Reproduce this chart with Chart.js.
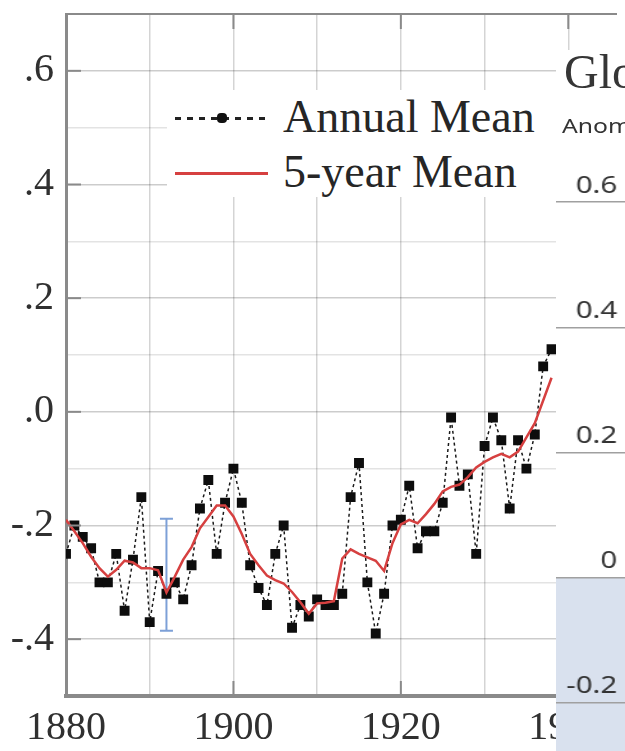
<!DOCTYPE html>
<html>
<head>
<meta charset="utf-8">
<script src="https://cdn.jsdelivr.net/npm/chart.js@4.4.1/dist/chart.umd.min.js"></script>
<style>
  html, body { margin: 0; padding: 0; width: 625px; height: 751px; overflow: hidden; background: #fff; }
  #main { position: absolute; left: 0; top: 0; }
  #legend { position: absolute; left: 167px; top: 90px; width: 389px; height: 107px; background: #fff; }
  .lg-text { position: absolute; left: 116px; font: 46px/46px "Liberation Serif", serif; color: #262626; white-space: nowrap; }
  .lg-dash { position: absolute; left: 8px; width: 93px; height: 3px;
             background: repeating-linear-gradient(to right, #222 0 6px, transparent 6px 12px); }
  .lg-dot { position: absolute; width: 10px; height: 10px; border-radius: 40%; background: #111; }
  .lg-red { position: absolute; left: 8px; width: 93px; height: 3px; background: rgb(214,64,64); }
  #panel { position: absolute; left: 556px; top: 50px; width: 69px; height: 701px; overflow: hidden; background: #fff; }
  /* the side panel is drawn narrow and widened to its slot */
  #side { position: absolute; left: 0; top: 0; transform: scaleX(1.2778); transform-origin: 0 0; }
  .p-title { position: absolute; left: 8px; top: -2px; font: 48px/48px "Liberation Serif", serif; color: #363636; white-space: nowrap; z-index: 2; }
  .p-sub { position: absolute; left: 6px; top: 66px; font: 19px/20px "Noto Sans", sans-serif; color: #333; white-space: nowrap; z-index: 2;
           transform: scaleX(1.3); transform-origin: 0 0; }
</style>
</head>
<body>
<canvas id="main" width="625" height="751"></canvas>

<div id="legend">
  <div class="lg-dash" style="top:27px"></div>
  <div class="lg-dot" style="left:50px; top:23px"></div>
  <div class="lg-text" style="top:4px">Annual Mean</div>
  <div class="lg-red" style="top:82px"></div>
  <div class="lg-text" style="top:59px">5-year Mean</div>
</div>

<div id="panel">
  <canvas id="side" width="54" height="701"></canvas>
  <div class="p-title">Global</div>
  <div class="p-sub">Anomaly</div>
</div>

<script>
// Global temperature anomaly (°C), 1880-1938
const years = [1880,1881,1882,1883,1884,1885,1886,1887,1888,1889,
               1890,1891,1892,1893,1894,1895,1896,1897,1898,1899,
               1900,1901,1902,1903,1904,1905,1906,1907,1908,1909,
               1910,1911,1912,1913,1914,1915,1916,1917,1918,1919,
               1920,1921,1922,1923,1924,1925,1926,1927,1928,1929,
               1930,1931,1932,1933,1934,1935,1936,1937,1938];

const annualMean = [-0.25,-0.20,-0.22,-0.24,-0.30,-0.30,-0.25,-0.35,-0.26,-0.15,
                    -0.37,-0.28,-0.32,-0.30,-0.33,-0.27,-0.17,-0.12,-0.25,-0.16,
                    -0.10,-0.16,-0.27,-0.31,-0.34,-0.25,-0.20,-0.38,-0.34,-0.36,
                    -0.33,-0.34,-0.34,-0.32,-0.15,-0.09,-0.30,-0.39,-0.32,-0.20,
                    -0.19,-0.13,-0.24,-0.21,-0.21,-0.16,-0.01,-0.13,-0.11,-0.25,
                    -0.06,-0.01,-0.05,-0.17,-0.05,-0.10,-0.04,0.08,0.11];

const fiveYearMean = [-0.190,-0.210,-0.231,-0.255,-0.275,-0.290,-0.278,-0.262,-0.265,-0.275,
                      -0.275,-0.279,-0.318,-0.290,-0.260,-0.238,-0.205,-0.185,-0.165,-0.165,
                      -0.184,-0.215,-0.250,-0.270,-0.288,-0.296,-0.302,-0.317,-0.335,-0.355,
                      -0.337,-0.336,-0.333,-0.258,-0.242,-0.250,-0.256,-0.262,-0.280,-0.231,
                      -0.198,-0.190,-0.196,-0.180,-0.162,-0.140,-0.132,-0.128,-0.115,-0.098,
                      -0.088,-0.080,-0.074,-0.080,-0.070,-0.045,-0.020,0.020,0.060];

// uncertainty bar
const errorBarYear = 1892;
const errorBarRange = [-0.385, -0.188];

// axes
const yGridValues = [-0.5,-0.4,-0.3,-0.2,-0.1,0.0,0.1,0.2,0.3,0.4,0.5,0.6,0.7];
const yLabelValues = [-0.4,-0.2,0.0,0.2,0.4,0.6];
const yLabels = ['-.4','-.2','.0','.2','.4','.6'];
const xGridYears = [1880,1890,1900,1910,1920,1930,1940];
const xLabelYears = [1880,1900,1920,1940];
const xLabels = ['1880','1900','1920','1940'];

// right-hand panel axis; values below zero are shaded
const sideTickValues = [-0.2,0,0.2,0.4,0.6];
const sideTickLabels = ['-0.2','0','0.2','0.4','0.6'];
const sideShadeBelow = 0;

const AXIS_GRAY = '#8a8a8a';
const near = (a, b) => Math.abs(a - b) < 1e-6;
// keep the plot area exactly where the layout padding and axis sizes put it
const noEdgePadding = (s) => { s.paddingLeft = 0; s.paddingRight = 0; s.paddingTop = 0; s.paddingBottom = 0; };

const frameTicks = {
  id: 'frameTicks',
  afterDraw(chart) {
    const { ctx, chartArea: a, scales: { x, y } } = chart;
    ctx.save();
    ctx.strokeStyle = AXIS_GRAY;
    ctx.lineWidth = 2;
    yLabelValues.forEach(v => {
      const py = y.getPixelForValue(v);
      ctx.beginPath(); ctx.moveTo(a.left, py); ctx.lineTo(a.left + 15, py); ctx.stroke();
    });
    xLabelYears.slice(1).forEach(yr => {
      const px = x.getPixelForValue(yr);
      ctx.beginPath(); ctx.moveTo(px, a.bottom); ctx.lineTo(px, a.bottom - 15); ctx.stroke();
      ctx.beginPath(); ctx.moveTo(px, a.top); ctx.lineTo(px, a.top + 15); ctx.stroke();
    });
    ctx.restore();
  }
};

// shades the negative part of the side panel before grid and labels are drawn
const negativeShade = {
  id: 'negativeShade',
  beforeDraw(chart) {
    const { ctx, chartArea: a, scales: { y } } = chart;
    const top = y.getPixelForValue(sideShadeBelow);
    ctx.save();
    ctx.fillStyle = 'rgb(217,225,238)';
    ctx.fillRect(a.left, top, a.right - a.left, a.bottom - top);
    ctx.restore();
  }
};

const serif = (size) => ({ family: '"Liberation Serif", serif', size });

new Chart(document.getElementById('main'), {
  type: 'line',
  data: {
    datasets: [
      {
        label: '5-year Mean',
        data: years.map((yr, i) => ({ x: yr, y: fiveYearMean[i] })),
        borderColor: 'rgb(214,64,64)',
        borderWidth: 2.5,
        pointRadius: 0,
        tension: 0,
        order: 0
      },
      {
        label: 'Annual Mean',
        data: years.map((yr, i) => ({ x: yr, y: annualMean[i] })),
        borderColor: '#1a1a1a',
        borderWidth: 1.5,
        borderDash: [3, 3],
        pointStyle: 'rect',
        pointRadius: 7,
        pointBackgroundColor: '#0d0d0d',
        pointBorderWidth: 0,
        tension: 0,
        order: 1
      },
      {
        label: 'uncertainty',
        data: errorBarRange.map(v => ({ x: errorBarYear, y: v })),
        borderColor: 'rgb(125,160,215)',
        borderWidth: 2,
        pointStyle: 'line',
        pointRadius: 6.5,
        pointBorderColor: 'rgb(125,160,215)',
        pointBorderWidth: 2,
        order: 2
      }
    ]
  },
  options: {
    responsive: false,
    animation: false,
    devicePixelRatio: 1,
    events: [],
    layout: { padding: { top: 14, left: 0, right: 0, bottom: 0 } },
    plugins: { legend: { display: false }, tooltip: { enabled: false } },
    scales: {
      x: {
        type: 'linear',
        position: 'bottom',
        min: 1880,
        max: 1945.76,
        afterBuildTicks(s) { s.ticks = xGridYears.map(v => ({ value: v })); },
        afterFit(s) { s.height = 55; noEdgePadding(s); },
        border: { color: AXIS_GRAY, width: 4 },
        grid: { color: 'rgba(0,0,0,0.17)', lineWidth: 1.5, drawTicks: false },
        ticks: {
          autoSkip: false, maxRotation: 0, padding: 8,
          color: '#303030', font: serif(40),
          callback(v) { const i = xLabelYears.indexOf(v); return i >= 0 ? xLabels[i] : ''; }
        }
      },
      x2: {
        type: 'linear',
        position: 'top',
        min: 1880,
        max: 1945.76,
        afterFit(s) { s.height = 0; noEdgePadding(s); },
        border: { color: AXIS_GRAY, width: 2 },
        grid: { color: 'rgba(0,0,0,0)', drawTicks: false },
        ticks: { display: false }
      },
      y: {
        type: 'linear',
        min: -0.5,
        max: 0.7,
        afterBuildTicks(s) { s.ticks = yGridValues.map(v => ({ value: v })); },
        afterFit(s) { s.width = 66; noEdgePadding(s); },
        border: { color: AXIS_GRAY, width: 3 },
        grid: {
          drawTicks: false,
          lineWidth: 1.5,
          color(ctx) {
            const v = ctx.tick.value;
            return yLabelValues.some(m => near(m, v)) ? 'rgba(0,0,0,0.2)' : 'rgba(0,0,0,0.11)';
          }
        },
        ticks: {
          autoSkip: false, padding: 12,
          color: '#303030', font: serif(40),
          callback(v) {
            const i = yLabelValues.findIndex(m => near(m, v));
            return i >= 0 ? yLabels[i] : '';
          }
        }
      }
    }
  },
  plugins: [frameTicks]
});

new Chart(document.getElementById('side'), {
  type: 'line',
  data: { labels: ['', ''], datasets: [] },
  options: {
    responsive: false,
    animation: false,
    devicePixelRatio: 1,
    events: [],
    layout: { padding: 0 },
    plugins: { legend: { display: false }, tooltip: { enabled: false } },
    scales: {
      x: { display: false, offset: false, afterFit: noEdgePadding },
      y: {
        min: -0.277,
        max: 0.843,
        afterBuildTicks(s) { s.ticks = sideTickValues.map(v => ({ value: v })); },
        afterFit(s) { s.width = 0; noEdgePadding(s); },
        border: { display: false },
        grid: { color: '#a0a0a0', lineWidth: 1.5, drawTicks: false },
        ticks: {
          autoSkip: false,
          mirror: true, crossAlign: 'far', padding: 8, labelOffset: -16,
          color: '#333', font: { family: '"Noto Sans", sans-serif', size: 23 },
          callback(v) {
            const i = sideTickValues.findIndex(m => near(m, v));
            return i >= 0 ? sideTickLabels[i] : '';
          }
        }
      }
    }
  },
  plugins: [negativeShade]
});
</script>
</body>
</html>
